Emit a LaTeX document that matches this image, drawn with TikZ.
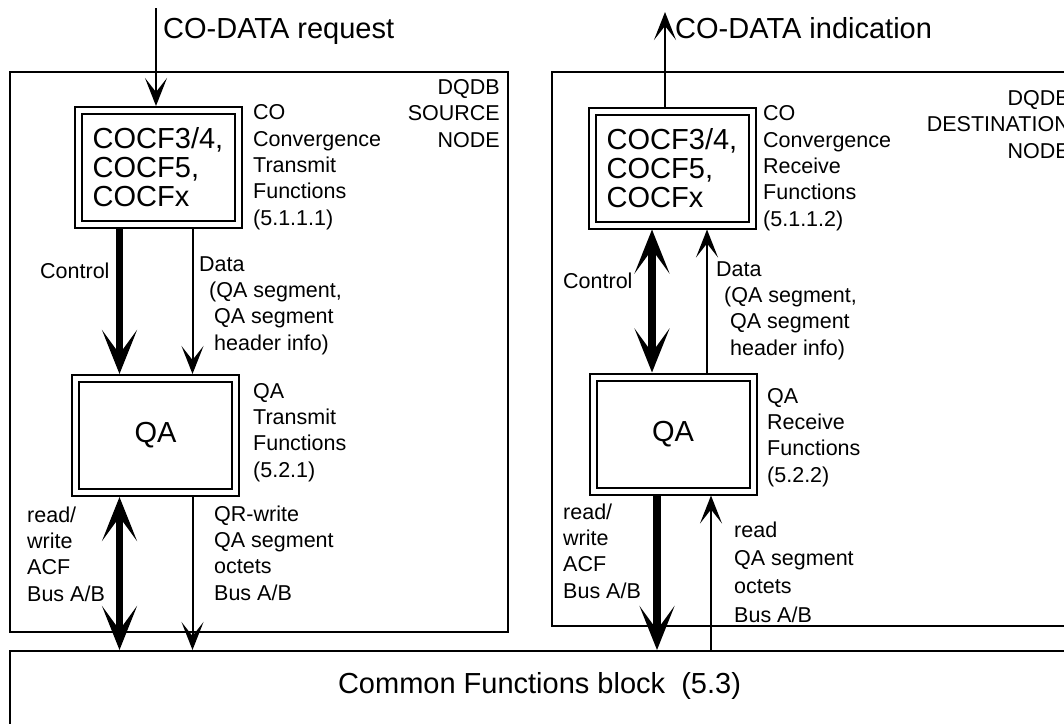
\documentclass[tikz,border=0pt]{standalone}
\usepackage{fontspec}
\setmainfont{Liberation Sans}
\usetikzlibrary{arrows.meta}

\tikzset{
  smalltip/.tip={Stealth[length=28pt,width=22pt,inset=14pt]},
  bigtip/.tip={Stealth[length=44pt,width=35pt,inset=24pt]},
  thinarrow/.style={line width=2pt,-smalltip},
  thickarrow/.style={line width=7.5pt,-bigtip},
  bigfont/.style={font=\fontsize{29}{29}\selectfont},
  smallfont/.style={font=\fontsize{21.5}{26.3}\selectfont},
  funcbox/.style={draw,line width=2pt,double,double distance=5pt,outer sep=4.5pt,
    minimum width=160pt,minimum height=114pt,inner sep=0pt,bigfont,align=left},
  lbl/.style={smallfont,inner sep=0pt,align=left,anchor=base west},
}

\begin{document}
\begin{tikzpicture}[x=1pt,y=-1pt]
	\useasboundingbox (0,0) rectangle (1064,723);

	\draw[line width=2pt] (10,72) rectangle (508,632);
	\draw[line width=2pt] (552,72) rectangle (1110,626);
	\node[draw,line width=2pt,minimum width=1110pt,minimum height=120pt,anchor=north west] (common) at (9,650) {};
	\node[bigfont,inner sep=0pt,anchor=base] (cfbtext) at (539.5,693) {Common Functions block~~(5.3)};

	\node[funcbox] (cocfL) at (158,167.5) {COCF3/4,\\COCF5,\\COCFx};
	\node[funcbox] (qaL) at (155.5,435.5) {QA};
	\node[funcbox] (cocfR) at (672,168) {COCF3/4,\\COCF5,\\COCFx};
	\node[funcbox] (qaR) at (673,434) {QA};

	\coordinate (reqtop) at (156,8);
	\coordinate (indtop) at (665,12);
	\coordinate (colLa) at (119.5,0);
	\coordinate (colLb) at (192.5,0);
	\coordinate (ctlR) at (652,0);
	\coordinate (acfR) at (657,0);
	\coordinate (datR) at (707,0);
	\coordinate (rdR) at (711,0);

	\draw[thinarrow] (reqtop) -- (reqtop |- cocfL.north);
	\draw[thickarrow] (colLa |- cocfL.south) -- (colLa |- qaL.north);
	\draw[thinarrow] (colLb |- cocfL.south) -- (colLb |- qaL.north);
	\draw[thickarrow,bigtip-bigtip] (colLa |- qaL.south) -- (colLa |- common.north);
	\draw[thinarrow] (colLb |- qaL.south) -- (colLb |- common.north);

	\draw[thinarrow] (indtop |- cocfR.north) -- (indtop);
	\draw[thickarrow,bigtip-bigtip] (ctlR |- cocfR.south) -- (ctlR |- qaR.north);
	\draw[thinarrow] (datR |- qaR.north) -- (datR |- cocfR.south);
	\draw[thickarrow] (acfR |- qaR.south) -- (acfR |- common.north);
	\draw[thinarrow] (rdR |- common.north) -- (rdR |- qaR.south);

	\node[bigfont,inner sep=0pt,anchor=base west] (reqlbl) at (163,38) {CO-DATA request};
	\node[lbl,align=right,anchor=base east] (srclbl) at (500,147) {DQDB\\SOURCE\\NODE};
	\node[lbl] (cocfLlbl) at (253,225) {CO\\Convergence\\Transmit\\Functions\\(5.1.1.1)};
	\node[lbl] (ctlLlbl) at (40,278) {Control};
	\node[lbl] (datLlbl) at (199,350) {Data\\\hspace*{10pt}(QA segment,\\\hspace*{15pt}QA segment\\\hspace*{15pt}header info)};
	\node[lbl] (qaLlbl) at (253,477) {QA\\Transmit\\Functions\\(5.2.1)};
	\node[lbl] (acfLlbl) at (27,601) {read/\\write\\ACF\\Bus A/B};
	\node[lbl] (qrwlbl) at (214,600) {QR-write\\QA segment\\octets\\Bus A/B};

	\node[bigfont,inner sep=0pt,anchor=base west] (indlbl) at (675,38) {CO-DATA indication};
	\node[lbl,align=right,anchor=base east] (dstlbl) at (1070,158) {DQDB\\DESTINATION\\NODE};
	\node[lbl] (cocfRlbl) at (763,226) {CO\\Convergence\\Receive\\Functions\\(5.1.1.2)};
	\node[lbl] (ctlRlbl) at (563,288) {Control};
	\node[lbl] (datRlbl) at (716,355) {Data\\\hspace*{8pt}(QA segment,\\\hspace*{14pt}QA segment\\\hspace*{14pt}header info)};
	\node[lbl] (qaRlbl) at (767,482) {QA\\Receive\\Functions\\(5.2.2)};
	\node[lbl] (acfRlbl) at (563,598) {read/\\write\\ACF\\Bus A/B};
	\node[lbl,font=\fontsize{21.5}{28.3}\selectfont] (rdlbl) at (734,622) {read\\QA segment\\octets\\Bus A/B};
\end{tikzpicture}
\end{document}
